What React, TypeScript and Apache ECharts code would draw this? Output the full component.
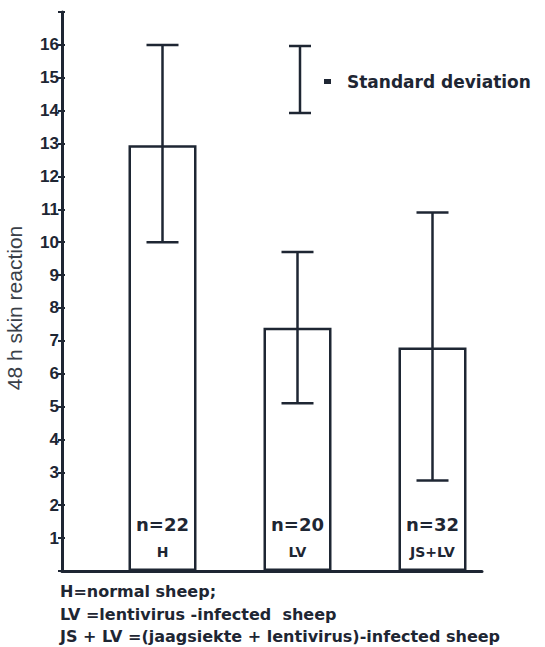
import React, { useEffect, useRef } from 'react';
import * as echarts from 'echarts';

const categories = ['H', 'LV', 'JS+LV'];
const groupSizes = [22, 20, 32];
const means = [12.95, 7.4, 6.8];
const sdLow = [10.0, 5.1, 2.75];
const sdHigh = [16.0, 9.7, 10.9];
const yMin = 0;
const yMax = 17;
const yAxisTitle = '48 h skin reaction';
const legendText = 'Standard deviation';
const footnotes = [
  'H=normal sheep;',
  'LV =lentivirus -infected  sheep',
  'JS + LV =(jaagsiekte + lentivirus)-infected sheep',
];

const INK = '#1e2633';
const FONT = '"Liberation Sans", Arial, Helvetica, sans-serif';
const WIDE = '"DejaVu Sans", "Liberation Sans", Arial, sans-serif';

export default function App() {
  const ref = useRef<HTMLDivElement>(null);
  useEffect(() => {
    document.body.style.margin = '0';
    const chart = echarts.init(ref.current!, null, { renderer: 'svg' });
    const errData = categories.map((c, i) => [i, sdLow[i], sdHigh[i]]);
    chart.setOption({
      animation: false,
      backgroundColor: '#ffffff',
      textStyle: { fontFamily: FONT },
      grid: [
        { left: 62, right: 63, top: 12, bottom: 76 },
        { left: 95, right: 45, top: 12, bottom: 76 },
        { left: 59, right: 63, top: 12, bottom: 76 },
      ],
      xAxis: [
        {
          type: 'value', gridIndex: 0, min: 0, max: 1,
          axisLine: { show: true, onZero: false, lineStyle: { color: INK, width: 3 } },
          axisTick: { show: false }, axisLabel: { show: false }, splitLine: { show: false },
        },
        {
          type: 'category', gridIndex: 1, data: categories,
          axisLine: { show: false }, axisTick: { show: false }, axisLabel: { show: false },
        },
        {
          type: 'value', gridIndex: 2, min: 0, max: 1, show: false,
        },
      ],
      yAxis: [
        {
          type: 'value', gridIndex: 0, min: yMin, max: yMax, interval: 1,
          axisLine: { show: true, lineStyle: { color: INK, width: 3 } },
          axisTick: { show: true, inside: false, length: 4, lineStyle: { color: INK, width: 2 } },
          axisLabel: {
            color: INK, fontSize: 17, fontWeight: 'bold', fontFamily: FONT, margin: 3,
            formatter: (v: number) => (v === yMin || v === yMax ? '' : String(v)),
          },
          splitLine: { show: false },
        },
        {
          type: 'value', gridIndex: 1, min: yMin, max: yMax, interval: 1, show: false,
        },
        {
          type: 'value', gridIndex: 2, min: yMin, max: yMax, interval: 1,
          axisLine: { show: false },
          axisTick: { show: true, inside: true, length: 6, lineStyle: { color: INK, width: 2 } },
          axisLabel: { show: false },
          splitLine: { show: false },
        },
      ],
      graphic: [
        {
          type: 'text', x: 14, y: 308, rotation: Math.PI / 2,
          style: { text: yAxisTitle, fill: '#3a3f48', font: `21px ${FONT}`, align: 'center', verticalAlign: 'middle' },
        },
        { type: 'line', shape: { x1: 300, y1: 46, x2: 300, y2: 113 }, style: { stroke: INK, lineWidth: 2.5 } },
        { type: 'line', shape: { x1: 289, y1: 46, x2: 311, y2: 46 }, style: { stroke: INK, lineWidth: 2.5 } },
        { type: 'line', shape: { x1: 289, y1: 113, x2: 311, y2: 113 }, style: { stroke: INK, lineWidth: 2.5 } },
        { type: 'rect', shape: { x: 324, y: 79, width: 7, height: 5 }, style: { fill: INK } },
        {
          type: 'text', x: 347, y: 82,
          style: { text: legendText, fill: INK, font: `bold 17px ${WIDE}`, verticalAlign: 'middle' },
        },
        ...footnotes.map((t, i) => ({
          type: 'text', x: 60, y: [591, 614, 636][i],
          style: { text: t, fill: INK, font: `bold 16px ${WIDE}`, verticalAlign: 'middle' },
        })),
      ],
      series: [
        {
          type: 'bar', xAxisIndex: 1, yAxisIndex: 1, data: means, barWidth: 68,
          itemStyle: { color: '#ffffff', borderColor: INK, borderWidth: 2.5 },
          label: {
            show: true, position: 'insideBottom', distance: 8,
            formatter: (p: any) => `{n|n=${groupSizes[p.dataIndex]}}\n{c|${categories[p.dataIndex]}}`,
            rich: {
              n: { fontSize: 18, fontWeight: 'bold', lineHeight: 34, color: INK, fontFamily: WIDE },
              c: { fontSize: 14, fontWeight: 'bold', lineHeight: 22, color: INK, fontFamily: WIDE },
            },
          },
          z: 2,
        },
        {
          type: 'custom', xAxisIndex: 1, yAxisIndex: 1, data: errData, z: 3,
          renderItem: (params: any, api: any) => {
            const x = api.value(0);
            const lo = api.coord([x, api.value(1)]);
            const hi = api.coord([x, api.value(2)]);
            const hw = 16;
            const style = { stroke: INK, lineWidth: 2.5 };
            return {
              type: 'group',
              children: [
                { type: 'line', shape: { x1: lo[0], y1: lo[1], x2: hi[0], y2: hi[1] }, style },
                { type: 'line', shape: { x1: hi[0] - hw, y1: hi[1], x2: hi[0] + hw, y2: hi[1] }, style },
                { type: 'line', shape: { x1: lo[0] - hw, y1: lo[1], x2: lo[0] + hw, y2: lo[1] }, style },
              ],
            };
          },
        },
      ],
    });
    return () => chart.dispose();
  }, []);
  return <div ref={ref} style={{ width: 545, height: 647 }} />;
}
